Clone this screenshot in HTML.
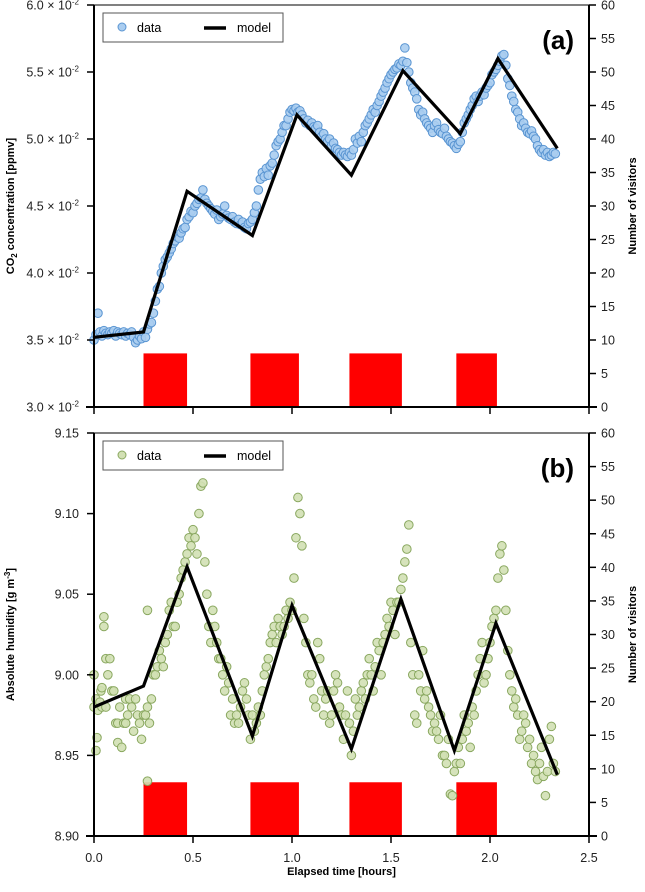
<!DOCTYPE html>
<html><head><meta charset="utf-8"><style>
body{margin:0;background:#fff}
svg{display:block;font-family:"Liberation Sans",Arial,sans-serif}
</style></head><body>
<svg id="chart" width="645" height="892" viewBox="0 0 645 892" xmlns="http://www.w3.org/2000/svg">
<g id="layer"></g>
</svg>
<script>
// ---- data ----
const tA=[0.00,0.01,0.02,0.03,0.04,0.05,0.06,0.07,0.08,0.09,0.10,0.11,0.12,0.13,0.14,0.15,0.16,0.17,0.18,0.19,0.20,0.21,0.22,0.23,0.24,0.25,0.26,0.27,0.28,0.29,0.30,0.31,0.32,0.33,0.34,0.35,0.36,0.37,0.38,0.39,0.40,0.41,0.42,0.43,0.44,0.45,0.46,0.47,0.48,0.49,0.50,0.51,0.52,0.53,0.54,0.55,0.56,0.57,0.58,0.59,0.60,0.61,0.62,0.63,0.64,0.65,0.66,0.67,0.68,0.69,0.70,0.71,0.72,0.73,0.74,0.75,0.76,0.77,0.78,0.79,0.80,0.81,0.82,0.83,0.84,0.85,0.86,0.87,0.88,0.89,0.90,0.91,0.92,0.93,0.94,0.95,0.96,0.97,0.98,0.99,1.00,1.01,1.02,1.03,1.04,1.05,1.06,1.07,1.08,1.09,1.10,1.11,1.12,1.13,1.14,1.15,1.16,1.17,1.18,1.19,1.20,1.21,1.22,1.23,1.24,1.25,1.26,1.27,1.28,1.29,1.30,1.31,1.32,1.33,1.34,1.35,1.36,1.37,1.38,1.39,1.40,1.41,1.42,1.43,1.44,1.45,1.46,1.47,1.48,1.49,1.50,1.51,1.52,1.53,1.54,1.55,1.56,1.57,1.58,1.59,1.60,1.61,1.62,1.63,1.64,1.65,1.66,1.67,1.68,1.69,1.70,1.71,1.72,1.73,1.74,1.75,1.76,1.77,1.78,1.79,1.80,1.81,1.82,1.83,1.84,1.85,1.86,1.87,1.88,1.89,1.90,1.91,1.92,1.93,1.94,1.95,1.96,1.97,1.98,1.99,2.00,2.01,2.02,2.03,2.04,2.05,2.06,2.07,2.08,2.09,2.10,2.11,2.12,2.13,2.14,2.15,2.16,2.17,2.18,2.19,2.20,2.21,2.22,2.23,2.24,2.25,2.26,2.27,2.28,2.29,2.30,2.31,2.32,2.33];
const co2=[3.50,3.54,3.70,3.56,3.53,3.57,3.55,3.54,3.56,3.55,3.57,3.53,3.56,3.55,3.54,3.56,3.53,3.55,3.54,3.56,3.52,3.48,3.50,3.53,3.51,3.56,3.52,3.58,3.62,3.63,3.70,3.79,3.88,3.90,4.00,4.05,4.10,4.12,4.15,4.18,4.22,4.24,4.27,4.26,4.30,4.33,4.34,4.40,4.42,4.46,4.45,4.50,4.52,4.55,4.56,4.62,4.55,4.52,4.50,4.48,4.46,4.44,4.47,4.40,4.42,4.44,4.50,4.43,4.41,4.40,4.42,4.38,4.37,4.40,4.36,4.38,4.34,4.33,4.37,4.38,4.40,4.45,4.50,4.62,4.70,4.75,4.72,4.78,4.73,4.80,4.82,4.88,4.95,4.98,5.00,5.05,5.10,5.10,5.15,5.20,5.22,5.21,5.23,5.20,5.21,5.18,5.15,5.12,5.14,5.10,5.12,5.09,5.08,5.10,5.05,5.02,5.04,5.00,4.98,5.00,4.95,4.97,4.93,4.92,4.90,4.88,4.90,4.88,4.87,4.90,4.88,4.92,5.00,4.97,5.02,4.98,5.05,5.10,5.12,5.15,5.18,5.22,5.20,5.25,5.28,5.32,5.35,5.38,5.42,5.45,5.48,5.50,5.52,5.53,5.56,5.55,5.58,5.68,5.57,5.50,5.42,5.38,5.35,5.30,5.22,5.18,5.20,5.15,5.12,5.10,5.08,5.05,5.10,5.12,5.07,5.05,5.04,5.08,5.02,5.00,4.98,4.97,4.95,4.93,4.96,4.98,5.05,5.12,5.15,5.18,5.22,5.25,5.30,5.32,5.28,5.32,5.35,5.33,5.38,5.40,5.42,5.48,5.50,5.52,5.55,5.58,5.62,5.63,5.55,5.45,5.40,5.32,5.28,5.22,5.20,5.15,5.10,5.12,5.08,5.05,5.04,5.06,5.02,5.00,4.95,4.92,4.90,4.92,4.88,4.90,4.87,4.88,4.90,4.89];
const modelTA=[0,0.25,0.47,0.80,1.025,1.30,1.56,1.85,2.04,2.34];
const modelA=[3.52,3.56,4.61,4.28,5.18,4.73,5.51,5.04,5.60,4.93];
const tB=[0.00,0.00,0.01,0.01,0.015,0.02,0.03,0.035,0.04,0.04,0.05,0.05,0.06,0.06,0.07,0.08,0.09,0.10,0.11,0.12,0.12,0.13,0.14,0.15,0.16,0.16,0.17,0.18,0.19,0.20,0.21,0.22,0.23,0.24,0.25,0.26,0.27,0.27,0.27,0.28,0.29,0.30,0.31,0.32,0.33,0.34,0.35,0.36,0.37,0.38,0.39,0.40,0.41,0.42,0.43,0.44,0.45,0.46,0.47,0.48,0.49,0.50,0.51,0.52,0.53,0.54,0.55,0.56,0.57,0.58,0.59,0.60,0.61,0.62,0.63,0.64,0.65,0.66,0.67,0.68,0.69,0.70,0.71,0.72,0.73,0.74,0.75,0.76,0.77,0.78,0.79,0.80,0.81,0.82,0.83,0.84,0.85,0.86,0.87,0.88,0.89,0.90,0.91,0.92,0.93,0.94,0.95,0.96,0.97,0.98,0.99,1.00,1.01,1.02,1.03,1.04,1.05,1.06,1.07,1.08,1.09,1.10,1.11,1.12,1.13,1.14,1.15,1.16,1.17,1.18,1.19,1.20,1.21,1.22,1.23,1.24,1.25,1.26,1.27,1.28,1.29,1.30,1.31,1.32,1.33,1.34,1.35,1.36,1.37,1.38,1.39,1.40,1.41,1.42,1.43,1.44,1.45,1.46,1.47,1.48,1.49,1.50,1.51,1.52,1.53,1.54,1.55,1.56,1.57,1.58,1.59,1.60,1.61,1.62,1.63,1.64,1.65,1.66,1.67,1.68,1.69,1.70,1.71,1.72,1.73,1.74,1.75,1.76,1.77,1.78,1.79,1.80,1.81,1.82,1.83,1.84,1.85,1.86,1.87,1.88,1.89,1.90,1.91,1.92,1.93,1.94,1.95,1.96,1.97,1.98,1.99,2.00,2.01,2.02,2.03,2.04,2.05,2.06,2.07,2.08,2.09,2.10,2.11,2.12,2.13,2.14,2.15,2.16,2.17,2.18,2.19,2.20,2.21,2.22,2.23,2.24,2.25,2.26,2.27,2.28,2.29,2.30,2.31,2.32,2.33];
const humid=[9.00,8.98,8.985,8.953,8.961,8.978,8.983,8.99,8.98,8.992,9.03,9.036,8.98,9.01,9.00,9.01,8.99,8.99,8.97,8.97,8.958,8.98,8.955,8.97,8.97,8.985,8.975,8.985,8.98,8.965,8.985,8.975,8.97,8.96,8.975,8.975,8.98,9.04,8.934,8.97,8.985,9.00,9.00,9.005,9.015,9.01,9.005,9.02,9.025,9.04,9.045,9.03,9.03,9.045,9.05,9.06,9.065,9.07,9.075,9.085,9.08,9.09,9.085,9.075,9.10,9.117,9.119,9.07,9.05,9.03,9.02,9.04,9.03,9.02,9.01,9.01,9.00,8.99,9.005,8.995,8.975,8.985,8.97,8.975,8.97,8.98,8.99,8.995,8.985,8.975,8.96,8.975,8.965,8.97,8.98,8.975,8.99,9.00,9.005,9.01,9.02,9.025,9.03,9.02,9.035,9.03,9.025,9.03,9.04,9.035,9.045,9.04,9.06,9.085,9.11,9.10,9.08,9.035,9.02,9.00,8.995,9.00,8.985,8.98,9.02,9.01,8.99,8.975,8.985,8.99,8.97,8.975,8.99,9.00,8.995,8.98,8.975,8.96,8.975,8.99,8.97,8.95,8.965,8.985,8.975,8.98,8.99,8.995,8.985,9.00,9.01,9.00,8.99,9.005,9.02,9.015,9.00,9.02,9.025,9.035,9.03,9.045,9.04,9.025,9.045,9.045,9.053,9.06,9.07,9.078,9.093,9.02,9.00,8.975,8.97,9.00,8.99,9.015,8.985,8.99,8.98,8.975,8.965,8.97,8.965,8.96,8.975,8.95,8.95,8.945,8.96,8.926,8.925,8.94,8.945,8.955,8.945,8.96,8.975,8.965,8.97,8.955,8.98,8.975,8.99,9.00,9.01,9.02,8.995,9.00,9.01,9.02,9.03,9.035,9.04,9.06,9.075,9.08,9.065,9.04,9.015,9.00,8.99,8.98,8.985,8.975,8.96,8.965,8.975,8.97,8.955,8.96,8.945,8.95,8.94,8.935,8.945,8.955,8.937,8.925,8.94,8.96,8.968,8.945,8.94];
const modelTB=[0,0.25,0.47,0.80,1.00,1.30,1.55,1.82,2.03,2.34];
const modelB=[8.98,8.993,9.067,8.962,9.043,8.954,9.047,8.953,9.032,8.938];
const visitStart=[0.25,0.79,1.29,1.83];
const visitEnd=[0.47,1.035,1.555,2.035];
const visitCount=[8,8,8,8];
const xTicks=[0,0.5,1.0,1.5,2.0,2.5];
const yTicksA=[3.0,3.5,4.0,4.5,5.0,5.5,6.0];
const yTicksB=[8.90,8.95,9.00,9.05,9.10,9.15];
const rTicks=[0,5,10,15,20,25,30,35,40,45,50,55,60];

// ---- geometry ----
const X0=94,X1=589;
const PA={top:5,bot:407,ymin:3.0,ymax:6.0};
const PB={top:433,bot:836,ymin:8.90,ymax:9.15};
const xs=t=>X0+(t-0)/(2.5)*(X1-X0);
const ys=(p,v)=>p.bot-(v-p.ymin)/(p.ymax-p.ymin)*(p.bot-p.top);
const yr=(p,v)=>p.bot-v/60*(p.bot-p.top);
const NS='http://www.w3.org/2000/svg';
const layer=document.getElementById('layer');
function mk(tag,attrs,parent){const e=document.createElementNS(NS,tag);for(const k in attrs)e.setAttribute(k,attrs[k]);(parent||layer).appendChild(e);return e;}

function panel(p,label,tArr,vArr,mt,mv,fill,stroke,yTicks,fmt,ytitle,showX){
  const g=mk('g',{});
  
  
  for(let i=0;i<visitStart.length;i++){
    const r=mk('rect',{x:xs(visitStart[i]),y:yr(p,visitCount[i]),width:xs(visitEnd[i])-xs(visitStart[i]),height:p.bot-yr(p,visitCount[i]),fill:'#ff0000'},g);
    
    
  }
  for(let i=0;i<tArr.length;i++){
    const c=mk('circle',{cx:xs(tArr[i]),cy:ys(p,vArr[i]),r:4.3,fill:fill,stroke:stroke,'stroke-width':1,'fill-opacity':0.9},g);
    
    
  }
  const pts=mt.map((t,i)=>xs(t)+','+ys(p,mv[i])).join(' ');
  const pl=mk('polyline',{points:pts,fill:'none',stroke:'#000','stroke-width':3.2,'stroke-linejoin':'miter'},g);
  
  
  mk('line',{x1:X0,y1:p.top,x2:X1,y2:p.top,stroke:'#000','stroke-width':1},g);
  mk('line',{x1:X0,y1:p.top,x2:X0,y2:p.bot,stroke:'#000','stroke-width':2},g);
  mk('line',{x1:X1,y1:p.top,x2:X1,y2:p.bot,stroke:'#000','stroke-width':2},g);
  mk('line',{x1:X0-8,y1:p.bot,x2:X1+8,y2:p.bot,stroke:'#000','stroke-width':2},g);
  yTicks.forEach(v=>{
    const y=ys(p,v);
    mk('line',{x1:X0-7,y1:y,x2:X0,y2:y,stroke:'#000','stroke-width':1.5},g);
    const tx=mk('text',{x:X0-15,y:y+4.5,'text-anchor':'end','font-size':12.5,fill:'#222'},g);
    tx.innerHTML=fmt(v);
    
    
  });
  rTicks.forEach(v=>{
    const y=yr(p,v);
    mk('line',{x1:X1,y1:y,x2:X1+7,y2:y,stroke:'#000','stroke-width':1.5},g);
    const tx=mk('text',{x:X1+12,y:y+4.5,'font-size':12.5,fill:'#222'},g);
    tx.textContent=v;
    
    
  });
  xTicks.forEach(v=>{
    const x=xs(v);
    mk('line',{x1:x,y1:p.bot,x2:x,y2:p.bot+7,stroke:'#000','stroke-width':1.5},g);
    if(showX){
      const tx=mk('text',{x:x,y:p.bot+26,'text-anchor':'middle','font-size':12.5,fill:'#222'},g);
      tx.textContent=v.toFixed(1);
      
      
    }
  });
  const yt=mk('text',{transform:`translate(14,${(p.top+p.bot)/2}) rotate(-90)`,'text-anchor':'middle','font-size':11,'font-weight':'bold'},g);
  yt.innerHTML=ytitle;
  
  
  const rt=mk('text',{transform:`translate(636,${(p.top+p.bot)/2}) rotate(-90)`,'text-anchor':'middle','font-size':11,'font-weight':'bold'},g);
  rt.textContent='Number of visitors';
  
  
  const pl2=mk('text',{x:574,y:p.top+44,'text-anchor':'end','font-size':26,'font-weight':'bold'},g);
  pl2.textContent='('+label+')';
  
  
  const lg=mk('g',{},g);
  
  
  const ly=p.top+8;
  mk('rect',{x:103,y:ly,width:180,height:29,fill:'#fff',stroke:'#555','stroke-width':1},lg);
  const lc=mk('circle',{cx:122,cy:ly+14,r:4,fill:fill,stroke:stroke},lg);
  
  
  const t1=mk('text',{x:137,y:ly+19,'font-size':12.5},lg);t1.textContent='data';
  mk('line',{x1:204,y1:ly+15,x2:226,y2:ly+15,stroke:'#000','stroke-width':3.5},lg);
  const t2=mk('text',{x:237,y:ly+19,'font-size':12.5},lg);t2.textContent='model';
}
const fmtA=v=>v.toFixed(1)+' × 10<tspan dy="-5" font-size="8">-2</tspan>';
const fmtB=v=>v.toFixed(2);
panel(PA,'a',tA,co2,modelTA,modelA,'#aacdf0','#5a95d2',yTicksA,fmtA,'CO<tspan dy="3" font-size="8">2</tspan><tspan dy="-3"> concentration [ppmv]</tspan>',false);
panel(PB,'b',tB,humid,modelTB,modelB,'#d2e0b4','#8aa860',yTicksB,fmtB,'Absolute humidity [g m<tspan dy="-4" font-size="8">-3</tspan><tspan dy="4">]</tspan>',true);
const xt=mk('text',{x:(X0+X1)/2,y:875,'text-anchor':'middle','font-size':11,'font-weight':'bold'});
xt.textContent='Elapsed time [hours]';


</script>
</body></html>
